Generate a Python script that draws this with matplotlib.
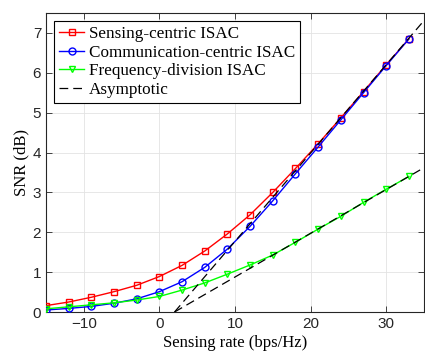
import matplotlib
matplotlib.use("Agg")
import matplotlib.pyplot as plt
import numpy as np

# sensing rate samples
rate = [-15, -12, -9, -6, -3, 0, 3, 6, 9, 12, 15, 18, 21, 24, 27, 30, 33]

snr_sensing = [0.16, 0.25, 0.37, 0.51, 0.67, 0.89, 1.17, 1.53, 1.96, 2.44, 3.0,
               3.6, 4.22, 4.87, 5.53, 6.2, 6.85]
snr_comm = [0.05, 0.09, 0.14, 0.22, 0.33, 0.51, 0.76, 1.12, 1.58, 2.15, 2.79,
            3.47, 4.14, 4.82, 5.5, 6.18, 6.85]
snr_fdma = [0.08, 0.13, 0.18, 0.23, 0.3, 0.39, 0.55, 0.73, 0.95, 1.18, 1.43,
            1.75, 2.08, 2.4, 2.75, 3.08, 3.4]

# asymptotic lines (end points)
asym_x = [2, 35]
asym_hi = [0, 7.31]
asym_lo = [0, 3.62]

labels = ['Sensing-centric ISAC', 'Communication-centric ISAC',
          'Frequency-division ISAC', 'Asymptotic']

serif = 'Liberation Serif'
sans = 'Liberation Sans'

fig = plt.figure(figsize=(4.25, 3.52), dpi=100)
ax = fig.add_axes([46 / 425, 1 - 312 / 352, 378 / 425, 299 / 352])

ax.plot(rate, snr_sensing, '-s', color='red', lw=1.0, ms=4, mfc='none',
        mew=1.0, label=labels[0], zorder=4)
ax.plot(rate, snr_comm, '-o', color='blue', lw=1.0, ms=5, mfc='none',
        mew=1.0, label=labels[1], zorder=4)
ax.plot(rate, snr_fdma, '-v', color='#00ff00', lw=1.0, ms=5, mfc='none',
        mew=1.0, label=labels[2], zorder=4)
ax.plot(asym_x, asym_hi, '--', color='black', lw=0.9, dashes=(7, 4),
        label=labels[3], zorder=5)
ax.plot(asym_x, asym_lo, '--', color='black', lw=0.9, dashes=(7, 4), zorder=5)

ax.set_xlim(-15, 35)
ax.set_ylim(0, 7.5)
ax.set_xticks([-10, 0, 10, 20, 30])
ax.set_yticks(range(0, 8))
ax.grid(True, color='#e3e3e3', lw=0.6)
ax.set_axisbelow(True)

ax.tick_params(direction='in', top=True, right=True, length=4, width=0.6,
               colors='#262626', labelsize=11)
for lab in ax.get_xticklabels() + ax.get_yticklabels():
    lab.set_fontfamily(sans)
for s in ax.spines.values():
    s.set_color('#262626')
    s.set_linewidth(0.8)

ax.set_xlabel('Sensing rate (bps/Hz)', fontfamily=serif, fontsize=12, labelpad=3)
ax.set_ylabel('SNR (dB)', fontfamily=serif, fontsize=12, labelpad=2)

leg = ax.legend(loc='upper left', prop={'family': serif, 'size': 12.3},
                fancybox=False, edgecolor='black', framealpha=1,
                borderpad=0.3, labelspacing=0.16, handlelength=1.5,
                handletextpad=0.25, borderaxespad=0.45)
leg.get_frame().set_linewidth(0.8)

fig.savefig('out.png', dpi=100)
